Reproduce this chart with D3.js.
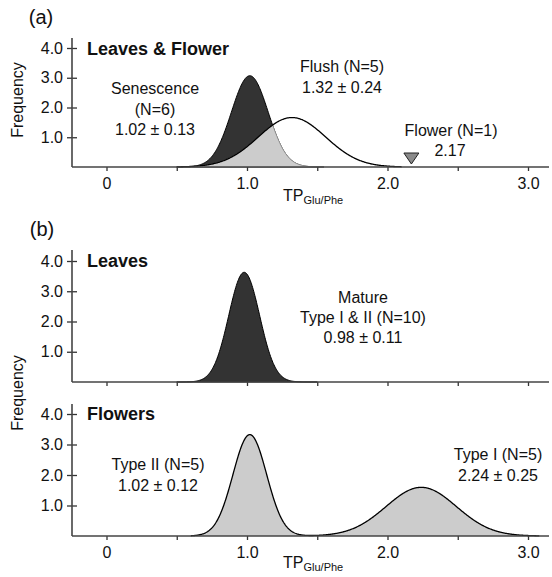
<!DOCTYPE html>
<html>
<head>
<meta charset="utf-8">
<script src="https://cdn.jsdelivr.net/npm/d3@7"></script>
<style>
  html, body { margin: 0; padding: 0; background: #fff; }
  svg { display: block; font-family: Arial, "Liberation Sans", Helvetica, sans-serif; }
</style>
</head>
<body>
<svg id="chart" width="552" height="577"></svg>
<script>
// ---- data ----
const xTicks = [0, 0.5, 1, 1.5, 2, 2.5, 3];
const xTickLabels = ["0", "", "1.0", "", "2.0", "", "3.0"];
const yTicks = [1, 2, 3, 4];
const yTickLabels = ["1.0", "2.0", "3.0", "4.0"];

// panel (a) Leaves & Flower
const aGroups = ["Senescence", "Flush"];
const aN = [6, 5];
const aMean = [1.02, 1.32];
const aSd = [0.13, 0.24];
const aFlowerN = [1];
const aFlowerValue = [2.17];

// panel (b) Leaves
const bGroups = ["Mature Type I & II"];
const bN = [10];
const bMean = [0.98];
const bSd = [0.11];

// panel (b) Flowers
const cGroups = ["Type II", "Type I"];
const cN = [5, 5];
const cMean = [1.02, 2.24];
const cSd = [0.12, 0.25];

// ---- drawing ----
const svg = d3.select("#chart");
const x = d3.scaleLinear().domain([0, 3]).range([106.5, 528]);
const axisLeftX = 72, axisRightX = 549;
const fmt = d3.format(".2f");

function pdf(m, s) {
  return v => Math.exp(-0.5 * ((v - m) / s) ** 2) / (s * Math.sqrt(2 * Math.PI));
}
function sample(lo, hi) { return d3.range(lo, hi + 1e-9, 0.004); }

function panel(yBase, yTop4, axisTop, showXLabels) {
  const y = d3.scaleLinear().domain([0, 4]).range([yBase, yTop4]);
  const g = svg.append("g");
  return { y, g, yBase, axisTop, showXLabels };
}

function drawAxes(p) {
  const { g, y, yBase, axisTop, showXLabels } = p;
  const ax = g.append("g").attr("class", "axes");
  // x axis
  const xa = d3.axisBottom(x).tickValues(xTicks).tickSize(4).tickSizeOuter(0)
    .tickFormat((d, i) => showXLabels ? xTickLabels[i] : "");
  const xg = ax.append("g").attr("transform", `translate(0,${yBase})`).call(xa);
  xg.select(".domain").remove();
  xg.selectAll(".tick line").attr("stroke", "#333").attr("stroke-width", 1.3);
  xg.selectAll(".tick text").attr("font-size", 16).attr("fill", "#111").attr("dy", "0.95em")
    .attr("font-family", "Arial, 'Liberation Sans', sans-serif");
  ax.append("line").attr("x1", axisLeftX).attr("x2", axisRightX).attr("y1", yBase).attr("y2", yBase)
    .attr("stroke", "#444").attr("stroke-width", 1.6);
  // y axis
  const ya = d3.axisLeft(y).tickValues(yTicks).tickSize(5).tickSizeOuter(0)
    .tickFormat((d, i) => yTickLabels[i]);
  const yg = ax.append("g").attr("transform", `translate(${axisLeftX},0)`).call(ya);
  yg.select(".domain").remove();
  yg.selectAll(".tick line").attr("x1", 5).attr("x2", -5).attr("stroke", "#333").attr("stroke-width", 1.3);
  yg.selectAll(".tick text").attr("font-size", 16).attr("fill", "#111").attr("x", -9)
    .attr("font-family", "Arial, 'Liberation Sans', sans-serif");
  ax.append("line").attr("x1", axisLeftX).attr("x2", axisLeftX).attr("y1", axisTop).attr("y2", yBase)
    .attr("stroke", "#444").attr("stroke-width", 1.6);
}

function text(t, px, py, opts = {}) {
  return svg.append("text").attr("x", px).attr("y", py)
    .attr("text-anchor", opts.anchor || "middle")
    .attr("dominant-baseline", "central")
    .attr("font-size", opts.size || 16)
    .attr("font-weight", opts.bold ? "bold" : "normal")
    .attr("fill", "#111")
    .text(t);
}

// ---------- panel (a) ----------
const pa = panel(167, 48, 38, true);
{
  const { g, y } = pa;
  const fS = pdf(aMean[0], aSd[0]);
  const fF = pdf(aMean[1], aSd[1]);
  const xsS = sample(0.5, 1.55);
  const xsF = sample(0.5, 2.1);
  const area = (f) => d3.area().x(d => x(d)).y0(y(0)).y1(d => y(f(d))).curve(d3.curveLinear);
  // senescence (dark)
  g.append("path").datum(xsS).attr("d", area(fS)).attr("fill", "#333333").attr("stroke", "#000").attr("stroke-width", 1);
  // overlap (light gray)
  const fMin = v => Math.min(fS(v), fF(v));
  g.append("path").datum(xsS).attr("d", area(fMin)).attr("fill", "#cccccc").attr("stroke", "#aaa").attr("stroke-width", 0.8);
  // flush outline
  g.append("path").datum(xsF).attr("d", d3.line().x(d => x(d)).y(d => y(fF(d))))
    .attr("fill", "none").attr("stroke", "#000").attr("stroke-width", 1.3);
  drawAxes(pa);
  // flower marker (downward triangle)
  const tx = x(aFlowerValue[0]);
  g.append("path").attr("d", d3.line()([[tx - 7.5, pa.y(0) - 14], [tx + 7.5, pa.y(0) - 14], [tx, pa.y(0) - 3]]) + "Z")
    .attr("fill", "#8a8a8a").attr("stroke", "#222").attr("stroke-width", 1);
}
text("(a)", 41, 17, { size: 20 });
text("Leaves & Flower", 87, 49, { size: 18, bold: true, anchor: "start" });
text(aGroups[0], 155, 88);
text(`(N=${aN[0]})`, 155, 109);
text(`${fmt(aMean[0])} ± ${fmt(aSd[0])}`, 155, 129);
text(`${aGroups[1]} (N=${aN[1]})`, 342, 66);
text(`${fmt(aMean[1])} ± ${fmt(aSd[1])}`, 342, 87);
text(`Flower (N=${aFlowerN[0]})`, 451, 130);
text(`${aFlowerValue[0]}`, 450, 150);

// x-axis title (a)
function xTitle(px, py) {
  const t = svg.append("text").attr("x", px).attr("y", py).attr("dominant-baseline", "central")
    .attr("font-size", 16).attr("fill", "#111");
  t.append("tspan").text("TP");
  t.append("tspan").attr("font-size", 11).attr("dy", 5).text("Glu/Phe");
}
xTitle(283, 195);

// ---------- panel (b) Leaves ----------
const pb = panel(382, 261, 250, false);
{
  const { g, y } = pb;
  const f = pdf(bMean[0], bSd[0]);
  const xs = sample(0.5, 1.5);
  g.append("path").datum(xs).attr("d", d3.area().x(d => x(d)).y0(y(0)).y1(d => y(f(d))))
    .attr("fill", "#333333").attr("stroke", "#000").attr("stroke-width", 1);
  drawAxes(pb);
}
text("(b)", 42, 229, { size: 20 });
text("Leaves", 87, 261, { size: 18, bold: true, anchor: "start" });
text("Mature", 363, 297);
text(`Type I & II (N=${bN[0]})`, 363, 317);
text(`${fmt(bMean[0])} ± ${fmt(bSd[0])}`, 363, 337);

// ---------- panel (b) Flowers ----------
const pc = panel(536, 414, 404, true);
{
  const { g, y } = pc;
  const f1 = pdf(cMean[0], cSd[0]);
  const f2 = pdf(cMean[1], cSd[1]);
  const xs = sample(0.6, 3.08);
  const fSum = v => f1(v) + f2(v);
  g.append("path").datum(xs).attr("d", d3.area().x(d => x(d)).y0(y(0)).y1(d => y(fSum(d))))
    .attr("fill", "#cccccc").attr("stroke", "none");
  g.append("path").datum(xs).attr("d", d3.line().x(d => x(d)).y(d => y(fSum(d))))
    .attr("fill", "none").attr("stroke", "#000").attr("stroke-width", 1.3);
  drawAxes(pc);
}
text("Flowers", 87, 414, { size: 18, bold: true, anchor: "start" });
text(`${cGroups[0]} (N=${cN[0]})`, 158, 464);
text(`${fmt(cMean[0])} ± ${fmt(cSd[0])}`, 158, 485);
text(`${cGroups[1]} (N=${cN[1]})`, 498, 454);
text(`${fmt(cMean[1])} ± ${fmt(cSd[1])}`, 498, 475);
xTitle(283, 562);

// y-axis titles
svg.append("text").attr("transform", "translate(17,100) rotate(-90)").attr("text-anchor", "middle")
  .attr("dominant-baseline", "central").attr("font-size", 16).attr("fill", "#111").text("Frequency");
svg.append("text").attr("transform", "translate(17,393) rotate(-90)").attr("text-anchor", "middle")
  .attr("dominant-baseline", "central").attr("font-size", 16).attr("fill", "#111").text("Frequency");
</script>
</body>
</html>
